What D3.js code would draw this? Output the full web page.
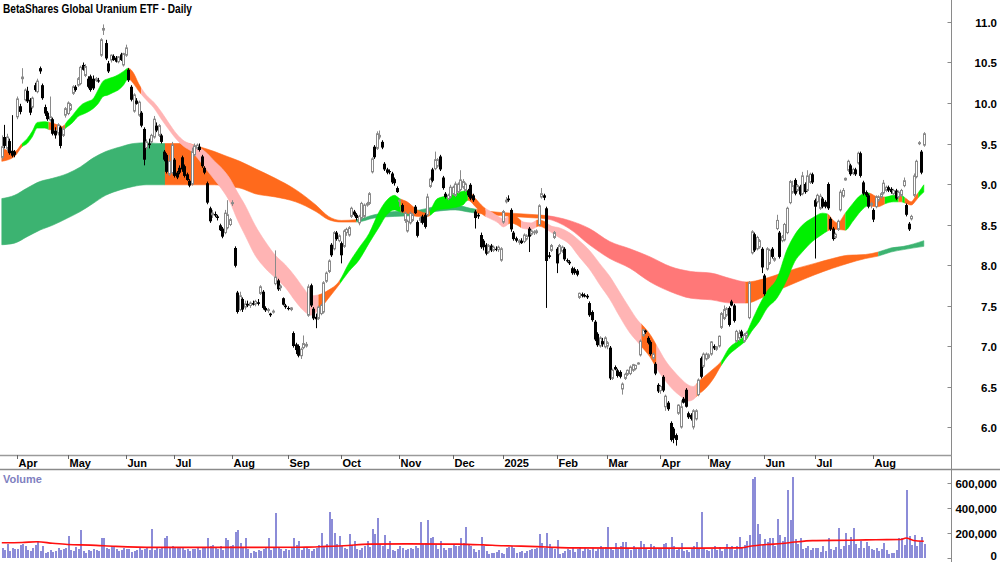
<!DOCTYPE html>
<html><head><meta charset="utf-8">
<script src="https://cdnjs.cloudflare.com/ajax/libs/d3/7.8.5/d3.min.js"></script>
<style>
body{margin:0;background:#fff}
svg{display:block}
text{font-family:"Liberation Sans",Arial,sans-serif;font-weight:bold}
</style>
</head><body>
<svg id="chart" width="1000" height="562"></svg>
<script>
// ---------------- DATA ----------------
const title = "BetaShares Global Uranium ETF - Daily";
const monthLabels = ["Apr","May","Jun","Jul","Aug","Sep","Oct","Nov","Dec","2025","Feb","Mar","Apr","May","Jun","Jul","Aug"];
const monthStart  = [6,26,49,68,91,113,134,157,178,198,219,239,260,279,301,321,344];
const priceTicks = [6.0,6.5,7.0,7.5,8.0,8.5,9.0,9.5,10.0,10.5,11.0];
const volumeTicks = [0,200000,400000,600000];

// daily candles [open, high, low, close], trading day 0 .. 364
const ohlc = [
[9.33,9.60,9.30,9.46],[9.58,9.73,9.44,9.47],[9.44,9.62,9.40,9.58],[9.53,9.56,9.36,9.38],[9.41,9.85,9.33,9.35],
[9.40,9.42,9.33,9.36],[9.83,10.08,9.80,10.05],[9.96,9.99,9.86,9.89],[10.30,10.43,10.24,10.32],[10.04,10.18,10.02,10.16],
[10.15,10.20,10.00,10.02],[10.04,10.06,9.85,9.88],[9.95,10.08,9.93,10.06],[10.22,10.25,10.14,10.16],[10.14,10.30,10.12,10.27],
[10.43,10.45,10.36,10.39],[10.22,10.24,10.04,10.06],[9.95,9.98,9.84,9.87],[9.88,9.90,9.78,9.80],[9.79,10.08,9.77,9.83],
[9.80,9.82,9.60,9.62],[9.66,9.70,9.56,9.60],[9.63,9.75,9.60,9.73],[9.70,9.72,9.44,9.47],[9.60,9.72,9.58,9.68],
[9.85,9.95,9.82,9.93],[9.87,10.02,9.85,10.00],[9.92,10.00,9.90,9.98],[10.12,10.22,10.10,10.20],[10.20,10.22,10.14,10.16],
[10.22,10.32,10.20,10.30],[10.24,10.46,10.22,10.44],[10.47,10.50,10.40,10.41],[10.34,10.48,10.32,10.45],[10.30,10.33,10.18,10.20],
[10.33,10.35,10.14,10.16],[10.30,10.34,10.16,10.18],[10.28,10.32,10.26,10.30],[10.28,10.31,10.25,10.27],[10.59,10.80,10.57,10.78],
[10.90,10.97,10.84,10.92],[10.74,10.78,10.53,10.55],[10.49,10.52,10.37,10.39],[10.53,10.60,10.50,10.59],[10.58,10.60,10.52,10.53],
[10.56,10.58,10.50,10.51],[10.51,10.58,10.49,10.57],[10.60,10.62,10.52,10.53],[10.47,10.62,10.45,10.61],[10.59,10.72,10.57,10.68],
[10.41,10.43,10.26,10.28],[10.20,10.22,10.02,10.04],[9.90,10.12,9.88,10.10],[10.03,10.06,9.98,9.99],[9.85,10.03,9.83,10.01],
[9.88,9.90,9.70,9.72],[9.68,9.70,9.23,9.30],[9.45,9.55,9.42,9.52],[9.50,9.56,9.44,9.48],[9.52,9.62,9.50,9.60],
[9.58,9.84,9.56,9.80],[9.72,9.76,9.64,9.66],[9.60,9.74,9.58,9.72],[9.60,9.62,9.50,9.52],[9.40,9.42,9.28,9.30],
[9.36,9.38,9.13,9.15],[9.12,9.36,9.10,9.28],[9.14,9.52,9.12,9.48],[9.30,9.32,9.08,9.10],[9.14,9.16,9.06,9.08],
[9.20,9.23,9.12,9.14],[9.33,9.35,9.15,9.18],[9.22,9.24,9.08,9.10],[9.12,9.14,9.04,9.05],[9.04,9.06,8.96,8.98],
[9.00,9.45,8.98,9.40],[9.36,9.50,9.34,9.47],[9.44,9.50,9.42,9.48],[9.46,9.50,9.40,9.42],[9.34,9.36,9.20,9.22],
[9.20,9.22,9.12,9.14],[9.01,9.03,8.75,8.77],[8.70,8.72,8.52,8.54],[8.62,8.68,8.58,8.64],[8.63,8.66,8.59,8.61],
[8.60,8.62,8.55,8.58],[8.49,8.51,8.42,8.43],[8.45,8.47,8.33,8.35],[8.40,8.68,8.38,8.64],[8.46,8.80,8.44,8.62],
[8.50,8.58,8.48,8.56],[8.76,8.80,8.73,8.77],[8.21,8.23,7.97,7.99],[7.66,7.68,7.40,7.42],[7.45,7.67,7.43,7.62],
[7.58,7.60,7.42,7.45],[7.48,7.56,7.45,7.52],[7.52,7.56,7.48,7.50],[7.50,7.55,7.47,7.53],[7.53,7.56,7.50,7.51],
[7.52,7.57,7.49,7.55],[7.54,7.58,7.50,7.52],[7.65,7.75,7.63,7.73],[7.67,7.69,7.45,7.47],[7.47,7.49,7.42,7.44],
[7.44,7.47,7.41,7.45],[7.40,7.41,7.36,7.38],[7.42,7.45,7.40,7.43],[7.77,8.18,7.75,7.85],[7.81,7.83,7.68,7.70],
[7.72,7.76,7.68,7.74],[7.59,7.60,7.50,7.51],[7.50,7.52,7.46,7.48],[7.47,7.49,7.44,7.46],[7.45,7.48,7.43,7.47],
[7.16,7.18,6.98,7.00],[7.02,7.04,6.90,6.95],[7.00,7.02,6.86,6.88],[6.88,6.98,6.84,6.96],[6.98,7.13,6.96,7.03],
[7.00,7.05,6.98,7.02],[7.38,7.76,7.36,7.73],[7.75,7.77,7.48,7.50],[7.46,7.48,7.32,7.34],[7.36,7.40,7.22,7.33],
[7.34,7.50,7.32,7.48],[7.40,7.52,7.38,7.50],[7.42,7.80,7.40,7.78],[7.80,7.92,7.78,7.90],[7.92,8.07,7.90,8.05],
[8.25,8.27,8.10,8.12],[8.20,8.42,8.18,8.40],[8.40,8.42,8.30,8.32],[8.30,8.38,8.28,8.36],[8.27,8.29,8.02,8.12],
[8.23,8.44,8.21,8.42],[8.40,8.46,8.36,8.44],[8.37,8.48,8.35,8.46],[8.60,8.72,8.58,8.70],[8.66,8.68,8.60,8.62],
[8.62,8.64,8.55,8.58],[8.52,8.62,8.49,8.60],[8.58,8.78,8.56,8.76],[8.60,8.76,8.58,8.74],[8.74,8.78,8.72,8.76],
[8.76,8.90,8.74,8.88],[9.15,9.33,9.13,9.31],[9.46,9.48,9.31,9.33],[9.44,9.65,9.42,9.62],[9.58,9.66,9.55,9.60],
[9.52,9.54,9.43,9.45],[9.25,9.27,9.16,9.18],[9.18,9.20,9.12,9.14],[9.16,9.18,9.12,9.15],[9.13,9.15,9.00,9.02],
[9.06,9.08,8.98,9.01],[8.95,8.97,8.89,8.90],[8.79,8.81,8.72,8.80],[8.74,8.76,8.65,8.66],[8.55,8.66,8.52,8.64],
[8.42,8.56,8.40,8.54],[8.52,8.66,8.50,8.64],[8.55,8.64,8.53,8.62],[8.72,8.74,8.63,8.64],[8.53,8.55,8.34,8.36],
[8.55,8.60,8.52,8.58],[8.60,8.62,8.50,8.52],[8.62,8.64,8.45,8.47],[8.62,8.88,8.60,8.84],[8.97,9.08,8.95,9.06],
[9.18,9.20,9.02,9.04],[9.19,9.40,9.17,9.30],[9.22,9.32,9.20,9.30],[9.34,9.36,9.16,9.18],[9.08,9.10,8.93,8.95],
[8.88,8.90,8.82,8.84],[8.82,8.88,8.80,8.86],[8.84,8.99,8.82,8.96],[8.88,8.98,8.86,8.96],[8.86,9.03,8.84,9.00],
[8.90,9.02,8.88,9.00],[8.93,9.17,8.91,9.05],[8.96,9.06,8.94,9.03],[8.92,9.02,8.90,9.00],[8.92,8.94,8.84,8.86],
[8.99,9.01,8.80,8.82],[8.86,8.88,8.78,8.80],[8.66,8.68,8.45,8.58],[8.62,8.64,8.57,8.60],[8.37,8.40,8.20,8.22],
[8.30,8.32,8.18,8.22],[8.25,8.27,8.12,8.14],[8.16,8.26,8.14,8.24],[8.24,8.26,8.16,8.18],[8.18,8.24,8.16,8.22],
[8.20,8.23,8.17,8.19],[8.19,8.24,8.16,8.22],[8.06,8.22,8.04,8.20],[8.53,8.68,8.51,8.66],[8.78,8.84,8.76,8.80],
[8.82,8.86,8.78,8.80],[8.68,8.70,8.41,8.44],[8.40,8.42,8.30,8.32],[8.33,8.35,8.28,8.30],[8.28,8.32,8.25,8.30],
[8.30,8.33,8.26,8.27],[8.29,8.39,8.27,8.37],[8.32,8.38,8.30,8.36],[8.45,8.47,8.16,8.35],[8.38,8.44,8.36,8.42],
[8.40,8.43,8.37,8.41],[8.40,8.44,8.38,8.42],[8.50,8.75,8.48,8.73],[8.84,8.95,8.82,8.88],[8.86,8.88,8.80,8.83],
[8.70,8.72,7.47,8.05],[8.12,8.16,8.08,8.10],[8.18,8.26,8.16,8.24],[8.34,8.42,8.32,8.40],[8.20,8.22,7.90,8.02],
[8.14,8.26,8.12,8.24],[8.17,8.24,8.15,8.22],[8.20,8.22,8.05,8.07],[8.06,8.08,8.03,8.05],[8.04,8.06,8.00,8.02],
[7.96,7.98,7.88,7.90],[7.95,7.97,7.88,7.90],[7.93,7.95,7.86,7.88],[7.60,7.66,7.58,7.65],[7.64,7.66,7.60,7.62],
[7.63,7.65,7.60,7.61],[7.62,7.64,7.58,7.60],[7.53,7.55,7.36,7.38],[7.42,7.44,7.30,7.32],[7.30,7.32,7.06,7.08],
[7.15,7.17,6.99,7.01],[7.00,7.12,6.98,7.10],[7.06,7.10,6.99,7.02],[6.99,7.12,6.97,7.10],[7.00,7.06,6.96,7.04],
[6.98,7.00,6.58,6.60],[6.60,6.72,6.58,6.70],[6.74,6.76,6.70,6.71],[6.70,6.72,6.61,6.63],[6.68,6.70,6.60,6.62],
[6.47,6.55,6.40,6.53],[6.60,6.67,6.58,6.65],[6.65,6.71,6.63,6.70],[6.66,6.76,6.64,6.74],[6.70,6.78,6.68,6.77],
[6.72,6.77,6.70,6.76],[6.78,6.80,6.77,6.79],[6.89,7.08,6.87,7.06],[7.13,7.21,7.11,7.20],[7.19,7.20,7.15,7.17],
[7.10,7.12,7.02,7.04],[7.05,7.07,6.88,6.90],[6.85,6.92,6.83,6.90],[6.78,6.80,6.64,6.66],[6.52,6.54,6.42,6.44],
[6.45,6.52,6.41,6.50],[6.62,6.64,6.43,6.45],[6.25,6.40,6.20,6.38],[6.30,6.32,6.20,6.22],[6.05,6.07,5.82,5.84],
[5.98,6.00,5.80,5.86],[5.90,5.92,5.77,5.84],[6.17,6.28,6.15,6.27],[6.00,6.33,5.98,6.25],[6.35,6.37,6.29,6.30],
[6.46,6.48,6.24,6.25],[6.17,6.19,6.10,6.12],[6.15,6.17,6.08,6.10],[6.00,6.22,5.97,6.20],[6.10,6.22,6.08,6.20],
[6.40,6.60,6.38,6.58],[6.85,6.87,6.60,6.62],[6.75,6.92,6.73,6.90],[6.84,6.92,6.82,6.90],[6.86,6.91,6.84,6.89],
[6.90,7.06,6.88,7.05],[7.00,7.02,6.95,6.97],[6.96,7.00,6.94,6.99],[7.00,7.13,6.98,7.12],[7.23,7.42,7.21,7.40],
[7.34,7.50,7.32,7.45],[7.38,7.48,7.36,7.46],[7.47,7.49,7.24,7.26],[7.55,7.57,7.49,7.50],[7.50,7.52,7.29,7.31],
[7.06,7.20,7.04,7.18],[7.10,7.20,7.06,7.16],[7.18,7.20,7.10,7.12],[7.06,7.16,7.04,7.14],[7.12,7.18,7.08,7.16],
[7.35,7.80,7.33,7.78],[8.15,8.43,8.13,8.41],[8.38,8.40,8.16,8.18],[8.20,8.36,8.18,8.34],[8.22,8.32,8.20,8.30],
[8.20,8.22,7.90,7.97],[7.87,7.89,7.62,7.64],[7.95,8.22,7.93,8.20],[8.02,8.20,8.00,8.18],[8.20,8.22,8.08,8.10],
[8.06,8.10,8.04,8.08],[8.45,8.62,8.43,8.55],[8.40,8.42,8.08,8.10],[8.30,8.37,8.28,8.35],[8.31,8.52,8.29,8.50],
[8.40,8.72,8.38,8.70],[8.77,9.05,8.75,9.03],[8.90,9.04,8.88,8.98],[9.05,9.07,8.86,8.88],[8.92,9.00,8.90,8.98],
[8.97,8.99,8.85,8.87],[8.88,9.15,8.86,9.10],[9.00,9.02,8.88,8.90],[8.92,9.17,8.90,9.10],[9.02,9.14,9.00,9.12],
[9.12,9.14,9.00,9.02],[8.80,8.82,8.08,8.72],[8.78,8.88,8.76,8.86],[8.70,8.88,8.68,8.85],[8.82,8.84,8.70,8.72],
[8.78,8.80,8.70,8.72],[9.00,9.02,8.68,8.70],[8.57,8.59,8.42,8.44],[8.45,8.47,8.30,8.32],[8.34,8.40,8.32,8.38],
[8.44,8.56,8.42,8.54],[8.68,8.93,8.66,8.90],[8.85,8.95,8.83,8.92],[9.05,9.08,9.04,9.07],[9.17,9.30,9.15,9.28],
[9.23,9.25,9.10,9.12],[9.13,9.20,9.11,9.18],[9.18,9.20,9.10,9.12],[9.26,9.40,9.24,9.38],[9.38,9.40,9.08,9.10],
[9.02,9.04,8.86,8.88],[8.90,8.92,8.84,8.86],[8.86,8.88,8.70,8.72],[8.74,8.78,8.70,8.76],[8.68,8.70,8.53,8.56],
[8.72,8.86,8.70,8.84],[8.80,8.86,8.78,8.84],[8.84,8.90,8.82,8.88],[8.89,9.05,8.87,9.01],[8.92,8.98,8.90,8.96],
[8.96,8.98,8.90,8.92],[8.94,8.96,8.88,8.90],[8.88,8.94,8.86,8.92],[8.92,8.94,8.80,8.82],[8.84,8.92,8.82,8.90],
[8.86,8.94,8.84,8.92],[8.98,9.08,8.96,9.04],[8.74,8.76,8.60,8.62],[8.51,8.53,8.42,8.44],[8.57,8.62,8.55,8.60],
[8.86,9.13,8.84,9.10],[9.09,9.30,9.07,9.28],[9.50,9.53,9.48,9.51],[9.40,9.42,9.12,9.14],[9.48,9.64,9.46,9.62]
];

// daily volume, thousands of units
const volumeK = [
75,60,110,55,80,70,65,105,110,90, 60,55,80,100,135,50,95,40,45,60,
45,55,75,60,70,80,174,60,55,85, 70,222,55,40,60,50,70,60,50,155,
155,80,65,95,90,70,50,60,75,65, 70,45,55,60,80,60,65,75,60,230,
60,75,70,80,160,175,80,90,75,80, 85,80,60,70,50,65,70,75,60,80,
75,155,90,100,80,70,95,60,160,145, 90,100,210,220,120,80,160,70,40,55,
45,60,55,70,80,155,60,75,360,85, 70,55,70,60,75,160,100,130,60,75,
80,65,55,70,75,100,200,95,110,370, 310,200,110,175,90,80,70,190,100,135,
70,60,80,90,130,85,230,190,320,110, 95,185,70,130,60,55,70,90,80,60,
65,75,70,90,80,290,110,120,300,155, 165,100,70,135,80,60,75,80,100,95,
90,160,120,250,100,90,70,45,60,165, 95,55,30,40,35,45,60,40,25,80,
85,90,75,40,45,50,40,55,60,70, 65,80,190,115,80,200,110,75,70,140,
30,35,55,70,60,85,45,65,80,55, 75,70,60,80,55,65,90,75,85,250,
80,60,120,70,95,125,125,75,60,90, 70,75,130,110,80,60,110,90,65,80,
70,110,115,75,165,90,60,70,120,55, 60,45,70,90,125,75,370,80,60,55,
70,95,60,85,50,70,110,75,90,60, 90,165,85,100,130,185,635,650,270,190,
100,150,125,155,160,90,310,185,130,170, 550,300,650,150,110,155,70,80,90,60,
80,80,80,45,90,55,155,70,60,85, 240,65,90,200,100,170,235,110,80,130,
75,125,90,70,60,80,50,70,115,60, 30,40,35,60,160,160,100,545,175,100,
180,90,130,165,110
];

// volume moving average line: [trading day, thousands]
const volumeAvg = [[0,120],[8,122],[14,127],[20,115],[26,105],[35,100],[45,90],[60,82],[80,82],[100,82],
[120,84],[128,90],[135,95],[145,108],[160,110],[180,108],[190,102],[198,95],[205,92],[215,85],[225,78],
[250,76],[275,76],[292,78],[296,93],[302,105],[308,113],[313,125],[320,137],[335,140],[345,144],[355,146],
[357,158],[360,138],[364,132]];

// short-term ribbon: [trading day, upper, lower]
const shortBand = [[0,9.44,9.28],[5,9.40,9.34],[8,9.50,9.46],[10,9.56,9.50],[12,9.65,9.58],[14,9.76,9.69],
[17,9.77,9.69],[19,9.76,9.67],[22,9.73,9.67],[24,9.71,9.67],[26,9.78,9.71],[28,9.85,9.76],[30,9.93,9.83],
[32,9.99,9.86],[34,10.02,9.89],[36,10.05,9.93],[38,10.16,9.99],[40,10.27,10.08],[42,10.30,10.10],[44,10.32,10.13],
[46,10.35,10.16],[48,10.39,10.22],[50,10.43,10.30],[52,10.37,10.24],[54,10.24,10.15],[57,10.10,10.04],
[60,10.01,9.94],[63,9.89,9.80],[66,9.75,9.67],[69,9.62,9.55],[72,9.53,9.46],[75,9.49,9.40],[78,9.45,9.29],
[81,9.38,9.17],[84,9.28,9.05],[87,9.19,8.93],[90,9.07,8.78],[93,8.90,8.56],[96,8.74,8.37],[100,8.49,8.12],
[104,8.29,7.96],[108,8.12,7.84],[112,8.00,7.72],[116,7.85,7.55],[119,7.72,7.44],[122,7.62,7.38],[125,7.63,7.44],
[129,7.69,7.59],[133,7.79,7.75],[137,8.02,7.92],[141,8.21,8.06],[145,8.39,8.27],[149,8.66,8.47],[152,8.80,8.62],
[155,8.86,8.68],[157,8.82,8.66],[160,8.78,8.64],[164,8.68,8.60],[168,8.64,8.60],[172,8.82,8.68],[177,8.86,8.70],
[182,8.91,8.74],[184,8.92,8.80],[187,8.82,8.72],[190,8.72,8.62],[193,8.66,8.57],[196,8.60,8.52],[198,8.57,8.47],
[201,8.62,8.52],[203,8.60,8.50],[206,8.53,8.45],[209,8.52,8.44],[212,8.56,8.48],[214,8.54,8.46],[217,8.48,8.40],
[220,8.46,8.34],[224,8.40,8.26],[228,8.30,8.10],[232,8.18,7.95],[236,8.02,7.76],[240,7.86,7.58],[244,7.66,7.36],
[248,7.46,7.16],[251,7.32,7.05],[254,7.22,6.94],[256,7.14,6.86],[259,6.98,6.70],[262,6.82,6.57],[265,6.70,6.46],
[268,6.60,6.38],[271,6.52,6.32],[273,6.50,6.34],[275,6.56,6.40],[278,6.64,6.48],[281,6.72,6.60],[284,6.81,6.76],
[287,6.97,6.89],[290,7.05,6.97],[294,7.16,7.08],[296,7.30,7.18],[299,7.50,7.30],[302,7.67,7.46],[306,7.83,7.59],
[310,8.19,7.82],[313,8.37,8.04],[316,8.49,8.16],[320,8.58,8.29],[324,8.64,8.38],[326,8.63,8.42],[328,8.56,8.44],
[330,8.52,8.44],[333,8.64,8.43],[336,8.76,8.54],[339,8.86,8.66],[342,8.89,8.73],[346,8.84,8.72],[349,8.84,8.76],
[352,8.86,8.78],[355,8.86,8.78],[357,8.82,8.76],[359,8.78,8.74],[361,8.86,8.80],[362,8.90,8.84],[364,8.99,8.90]];

// long-term ribbon: [trading day, upper, lower]
const longBand = [[0,8.82,8.25],[5,8.86,8.27],[10,8.95,8.35],[15,9.03,8.43],[20,9.07,8.49],[26,9.13,8.58],
[31,9.21,8.66],[36,9.32,8.76],[41,9.40,8.86],[47,9.46,8.93],[52,9.50,8.97],[57,9.51,8.99],[62,9.50,8.99],
[68,9.50,8.99],[73,9.50,8.99],[78,9.46,8.99],[84,9.40,8.99],[89,9.34,8.97],[94,9.28,8.95],[100,9.19,8.88],
[108,9.07,8.84],[116,8.93,8.78],[124,8.74,8.66],[129,8.60,8.56],[134,8.55,8.53],[140,8.56,8.53],[147,8.62,8.58],
[155,8.66,8.60],[163,8.67,8.61],[171,8.72,8.66],[179,8.74,8.68],[185,8.70,8.65],[193,8.66,8.62],[201,8.64,8.60],
[211,8.62,8.58],[215,8.61,8.57],[224,8.55,8.45],[232,8.45,8.25],[240,8.29,8.08],[248,8.20,7.96],[256,8.10,7.79],
[264,7.98,7.67],[272,7.92,7.59],[280,7.90,7.57],[288,7.83,7.53],[294,7.79,7.53],[301,7.83,7.61],[308,7.90,7.71],
[314,7.96,7.79],[321,8.02,7.88],[328,8.08,7.96],[334,8.12,8.02],[341,8.13,8.08],[346,8.16,8.11],[351,8.21,8.16],
[356,8.23,8.19],[364,8.30,8.23]];

// ribbon colour states: [from trading day, state]
const shortStates = [[0,"down"],[8,"up"],[18.5,"down"],[25,"up"],[50,"down"],[55,"fall"],[125,"down"],[133.5,"up"],
[157.5,"down"],[169,"up"],[184,"down"],[191,"fall"],[200,"down"],[205,"fall"],[211,"down"],[214.5,"fall"],
[252.5,"down"],[258.5,"fall"],[274.3,"down"],[284,"up"],[326,"down"],[333,"up"],[342.7,"down"],[348.6,"up"],
[354,"down"],[355.5,"up"],[356.5,"down"],[361.8,"up"]];
const longStates = [[0,"up"],[64.4,"down"],[140,"up"],[187.4,"down"],[215,"fall"],[293.5,"down"],[346,"up"]];

// ---------------- STYLE ----------------
const shortColours = {up:"#00f000", down:"#ff6a1c", fall:"#ffb4b4"};
const longColours  = {up:"#3cb371", down:"#ff6a1c", fall:"#ff7878"};

const svg = d3.select("#chart");
const W = 1000, H = 562, axisX = 951.5;

const x = d3.scaleLinear().domain([0, 364]).range([1.8, 923.8]);
const y = d3.scaleLinear().domain([6, 11]).range([427, 22]);
const yv = d3.scaleLinear().domain([0, 600000]).range([557.5, 483.4]);

const defs = svg.append("defs");
defs.append("clipPath").attr("id","priceClip").append("rect")
  .attr("x",0).attr("y",0).attr("width",axisX).attr("height",454);

const priceG = svg.append("g").attr("clip-path","url(#priceClip)");

function drawBand(data, states, colours, key){
  const area = d3.area()
    .x(d => x(d[0])).y0(d => y(d[2])).y1(d => y(d[1]))
    .curve(d3.curveMonotoneX);
  const pathD = area(data);
  states.forEach((s, k) => {
    const x0 = k === 0 ? 0 : x(s[0]);
    const x1 = k === states.length - 1 ? axisX : x(states[k+1][0]);
    const id = key + k;
    defs.append("clipPath").attr("id", id).append("rect")
      .attr("x", x0).attr("y", 0).attr("width", Math.max(0, x1 - x0)).attr("height", 460);
    priceG.append("path").attr("d", pathD)
      .attr("fill", colours[s[1]])
      .attr("stroke", colours[s[1]]).attr("stroke-width", 0.6)
      .attr("clip-path", `url(#${id})`);
  });
}
drawBand(longBand, longStates, longColours, "lb");
drawBand(shortBand, shortStates, shortColours, "sb");

// candles
const cg = priceG.append("g");
ohlc.forEach((d, i) => {
  const [o, h, l, c] = d;
  const up = c >= o;
  const cx = Math.round(x(i)) + 0.5;
  cg.append("line").attr("x1", cx).attr("x2", cx)
    .attr("y1", y(h)).attr("y2", y(l))
    .attr("stroke", up ? "#8a8a8a" : "#000").attr("stroke-width", 1);
  const top = y(Math.max(o, c)), bot = y(Math.min(o, c));
  if (up) {
    cg.append("rect").attr("x", cx - 1).attr("y", top)
      .attr("width", 2).attr("height", Math.max(1, bot - top))
      .attr("fill", "#fff").attr("stroke", "#8a8a8a").attr("stroke-width", 1);
  } else {
    cg.append("rect").attr("x", cx - 1.5).attr("y", top)
      .attr("width", 3).attr("height", Math.max(1.2, bot - top))
      .attr("fill", "#000");
  }
});

// title
svg.append("text").attr("x", 3).attr("y", 13).attr("font-size", 12)
  .attr("textLength", 189).attr("lengthAdjust","spacingAndGlyphs").attr("fill","#000").text(title);

// right axis line and price ticks
svg.append("line").attr("x1", axisX).attr("x2", axisX).attr("y1", 0).attr("y2", H)
  .attr("stroke", "#8a8a8a").attr("stroke-width", 1);
priceTicks.forEach(t => {
  const ty = Math.round(y(t)) + 0.5;
  svg.append("line").attr("x1", axisX - 4).attr("x2", axisX).attr("y1", ty).attr("y2", ty).attr("stroke","#8a8a8a");
  svg.append("text").attr("x", 997).attr("y", ty + 4).attr("text-anchor","end")
    .attr("font-size", 11.5).attr("fill","#000").text(t.toFixed(1));
});

// month band
svg.append("line").attr("x1",0).attr("x2",axisX).attr("y1",455.5).attr("y2",455.5).attr("stroke","#9a9a9a").attr("stroke-width",1.5);
svg.append("line").attr("x1",0).attr("x2",W).attr("y1",469.5).attr("y2",469.5).attr("stroke","#8a8a8a").attr("stroke-width",1.5);
monthStart.forEach((m, k) => {
  const mx = Math.round(x(m)) + 0.5;
  svg.append("line").attr("x1", mx).attr("x2", mx).attr("y1", 455).attr("y2", 459).attr("stroke","#666");
  svg.append("text").attr("x", mx + 1).attr("y", 467).attr("font-size", 11).attr("fill","#000").text(monthLabels[k]);
});

// volume
svg.append("text").attr("x", 3).attr("y", 483).attr("font-size", 11).attr("fill","#8080c0").text("Volume");
const vg = svg.append("g").attr("shape-rendering","crispEdges");
volumeK.forEach((v, i) => {
  const top = yv(v * 1000);
  vg.append("rect").attr("x", Math.round(x(i))).attr("y", top)
    .attr("width", 1.5).attr("height", yv(0) - top).attr("fill", "#8c8cd8");
});
const maLine = d3.line().x(d => x(d[0])).y(d => yv(d[1] * 1000)).curve(d3.curveMonotoneX);
svg.append("path").attr("d", maLine(volumeAvg)).attr("fill","none").attr("stroke","#ff1010").attr("stroke-width",1.6);

const fmt = d3.format(",");
volumeTicks.forEach(t => {
  const ty = Math.round(yv(t)) + 0.5;
  svg.append("line").attr("x1", axisX - 4).attr("x2", axisX).attr("y1", ty).attr("y2", ty).attr("stroke","#8a8a8a");
  svg.append("text").attr("x", 997).attr("y", Math.min(ty + 4, 560)).attr("text-anchor","end")
    .attr("font-size", 11.5).attr("fill","#000").text(fmt(t));
});
</script>
</body></html>
